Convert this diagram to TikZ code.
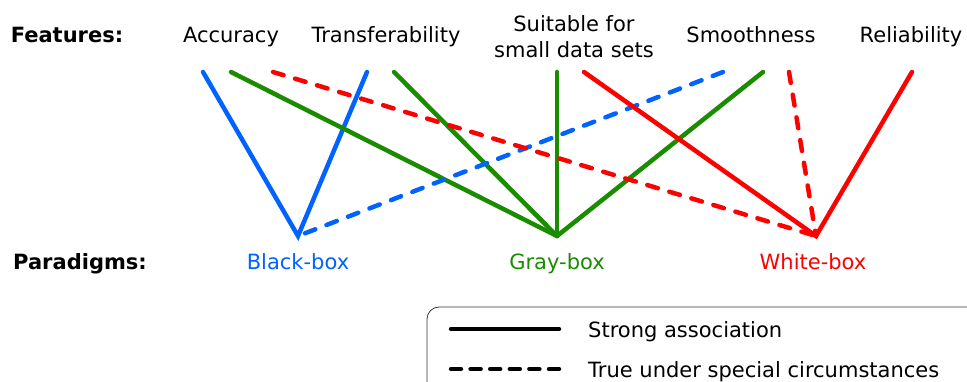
\documentclass[tikz,border=0pt]{standalone}
\usepackage{fontspec}
\setmainfont{DejaVu Sans}
\begin{document}
\begin{tikzpicture}[x=1pt,y=-1pt,
  lbl/.style={font=\fontsize{21}{26}\selectfont, inner sep=0pt, align=center, anchor=base},
  hd/.style={lbl, font=\fontsize{21}{26}\selectfont\bfseries},
  conn/.style={line width=4.5pt, line cap=round},
  dsh/.style={conn, dash pattern=on 11pt off 12pt},
  cblue/.style={color=myblue},
  cgreen/.style={color=mygreen},
  cred/.style={color=myred}]
\definecolor{myblue}{RGB}{0,98,255}
\definecolor{mygreen}{RGB}{25,140,0}
\definecolor{myred}{RGB}{255,0,0}
\clip (0,0) rectangle (967,382);
\useasboundingbox (0,0) rectangle (967,382);
% labels
\node[hd] (feat) at (67,43) {Features:};
\node[lbl] (acc) at (231,43) {Accuracy};
\node[lbl] (trans) at (386,43) {Transferability};
\node[lbl] (suit) at (574,58) {Suitable for\\small data sets};
\node[lbl] (smooth) at (751,43) {Smoothness};
\node[lbl] (rel) at (911,43) {Reliability};
\node[hd] (para) at (80,270) {Paradigms:};
\node[lbl, text=myblue] (bb) at (298,270) {Black-box};
\node[lbl, text=mygreen] (gb) at (557,270) {Gray-box};
\node[lbl, text=myred] (wb) at (813,270) {White-box};
% endpoints
\coordinate (B) at (298,236);
\coordinate (G) at (557,236);
\coordinate (W) at (816,236);
\coordinate (a1) at (203,72);
\coordinate (a2) at (231,72);
\coordinate (a3) at (273,72);
\coordinate (t1) at (367,72);
\coordinate (t2) at (394,72);
\coordinate (s1) at (557,72);
\coordinate (s2) at (584,72);
\coordinate (m1) at (723,72);
\coordinate (m2) at (763,72);
\coordinate (m3) at (789,72);
\coordinate (r1) at (912,72);
% connectors
\draw[conn, cblue] (a1) -- (B) -- (t1);
\draw[conn, cgreen] (a2) -- (G);
\draw[conn, cgreen] (t2) -- (G);
\draw[conn, cgreen] (s1) -- (G);
\draw[conn, cgreen] (m2) -- (G);
\draw[dsh, cblue] (m1) -- (B);
\draw[dsh, cred] (a3) -- (W);
\draw[conn, cred] (s2) -- (W) -- (r1);
\draw[dsh, cred] (m3) -- (W);
% legend
\draw[line width=0.8pt, rounded corners=12pt, color=black!80] (427,307) rectangle (990,400);
\coordinate (l1) at (451,329);
\coordinate (l2) at (559,329);
\coordinate (l3) at (451,369);
\coordinate (l4) at (559,369);
\draw[conn] (l1) -- (l2);
\draw[conn, dash pattern=on 10pt off 9.6pt] (l3) -- (l4);
\node[lbl, anchor=base west] (ls) at (588,337) {Strong association};
\node[lbl, anchor=base west] (lt) at (588,377) {True under special circumstances};
\end{tikzpicture}
\end{document}
